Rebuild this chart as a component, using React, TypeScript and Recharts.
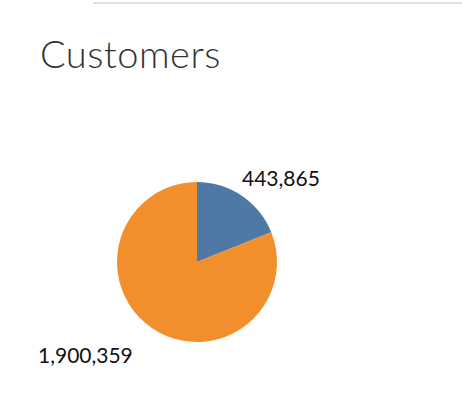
import React from "react";
import { PieChart, Pie, Cell } from "recharts";

const categories = ["Segment A", "Segment B"];
const customerCounts = [443865, 1900359];
const sliceColors = ["#4e79a7", "#f28e2b"];

const data = categories.map((name, i) => ({ name, value: customerCounts[i] }));

const renderLabel = (props: any) => {
  const { cx, cy, index, value } = props;
  const text = Number(value).toLocaleString("en-US");
  const pos = index === 0 ? { x: cx + 45, y: cy - 85 } : { x: cx - 159, y: cy + 92 };
  return (
    <text x={pos.x} y={pos.y} fill="#111" fontSize={21} fontFamily="Lato, sans-serif" textAnchor="start" dominantBaseline="central">
      {text}
    </text>
  );
};

export default function App() {
  return (
    <div style={{ position: "fixed", left: 0, top: 0, width: 462, height: 412, background: "#fff", fontFamily: "Lato, sans-serif" }}>
      <div style={{ position: "absolute", left: 93, top: 2, width: 369, height: 2, background: "#e0e0e0" }} />
      <div style={{ position: "absolute", left: 40, top: 30, fontSize: 38, fontWeight: 300, color: "#333", letterSpacing: 0.5 }}>
        Customers
      </div>
      <PieChart width={462} height={412} style={{ position: "absolute", left: 0, top: 0 }}>
        <Pie
          data={data}
          dataKey="value"
          nameKey="name"
          cx={192}
          cy={257}
          outerRadius={80}
          startAngle={90}
          endAngle={-270}
          stroke="none"
          label={renderLabel}
          labelLine={false}
          isAnimationActive={false}
        >
          {data.map((d, i) => (
            <Cell key={d.name} fill={sliceColors[i]} />
          ))}
        </Pie>
      </PieChart>
    </div>
  );
}
